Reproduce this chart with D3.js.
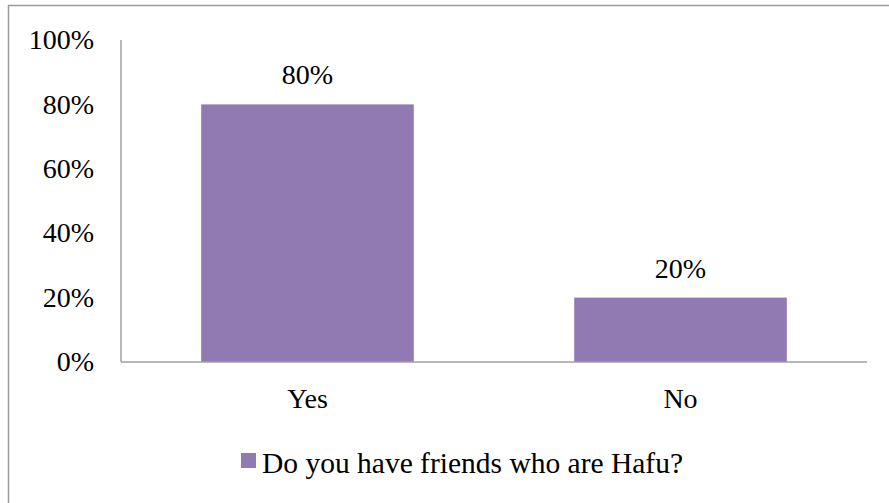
<!DOCTYPE html>
<html>
<head>
<meta charset="utf-8">
<script src="https://cdn.jsdelivr.net/npm/d3@7"></script>
<style>
  body { margin: 0; background: #fff; }
  svg { display: block; font-family: "Liberation Serif", "Times New Roman", serif; }
</style>
</head>
<body>
<div class="canvas"></div>
<script>
const categories = ["Yes", "No"];
const values = [0.8, 0.2];
const yTicks = [0, 0.2, 0.4, 0.6, 0.8, 1];
const seriesName = "Do you have friends who are Hafu?";

const width = 889, height = 503;
const barColor = "#9179b1";
const fontSize = 28;

const svg = d3.select(".canvas").append("svg")
  .attr("width", width)
  .attr("height", height);

// outer frame (right and bottom edges fall outside the picture)
svg.append("rect")
  .attr("x", 8.5).attr("y", 5.5)
  .attr("width", 900).attr("height", 520)
  .attr("fill", "none")
  .attr("stroke", "#9a9a9a")
  .attr("stroke-width", 1.5);

const x = d3.scaleBand().domain(categories).range([121, 867]).paddingInner(0.43).paddingOuter(0.215);
const y = d3.scaleLinear().domain([0, 1]).range([362, 40]);

// y axis line
svg.append("line")
  .attr("x1", 121).attr("x2", 121)
  .attr("y1", y(1)).attr("y2", y(0))
  .attr("stroke", "#a0a0a0").attr("stroke-width", 1.5);

svg.append("g")
  .selectAll("text")
  .data(yTicks)
  .enter()
  .append("text")
  .attr("x", 94)
  .attr("y", d => y(d))
  .attr("dy", "0.33em")
  .attr("text-anchor", "end")
  .attr("font-size", fontSize)
  .attr("fill", "#000")
  .text(d => d3.format(".0%")(d));

// bars
svg.append("g")
  .selectAll("rect")
  .data(values)
  .enter()
  .append("rect")
  .attr("x", (d, i) => x(categories[i]))
  .attr("y", d => y(d))
  .attr("width", x.bandwidth())
  .attr("height", d => y(0) - y(d))
  .attr("fill", barColor);

// value labels
svg.append("g")
  .selectAll("text")
  .data(values)
  .enter()
  .append("text")
  .attr("x", (d, i) => x(categories[i]) + x.bandwidth() / 2)
  .attr("y", d => y(d) - 20)
  .attr("text-anchor", "middle")
  .attr("font-size", fontSize)
  .text(d => d3.format(".0%")(d));

// x axis line
svg.append("line")
  .attr("x1", 121).attr("x2", 867)
  .attr("y1", y(0)).attr("y2", y(0))
  .attr("stroke", "#a0a0a0").attr("stroke-width", 1.5);

// category labels
svg.append("g")
  .selectAll("text")
  .data(categories)
  .enter()
  .append("text")
  .attr("x", d => x(d) + x.bandwidth() / 2)
  .attr("y", 408)
  .attr("text-anchor", "middle")
  .attr("font-size", fontSize)
  .text(d => d);

// legend
const legend = svg.append("g");
legend.append("rect")
  .attr("x", 241).attr("y", 453)
  .attr("width", 15).attr("height", 15)
  .attr("fill", barColor);
legend.append("text")
  .attr("x", 262).attr("y", 473)
  .attr("font-size", 29.5)
  .text(seriesName);
</script>
</body>
</html>
